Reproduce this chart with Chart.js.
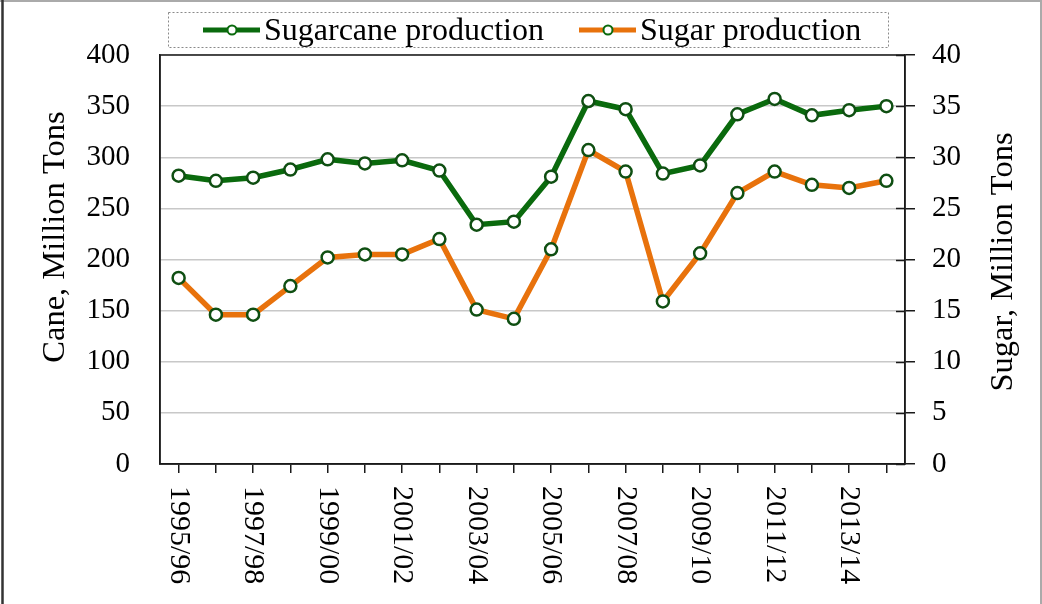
<!DOCTYPE html>
<html>
<head>
<meta charset="utf-8">
<script src="https://cdn.jsdelivr.net/npm/chart.js@4"></script>
<style>
  html, body { margin: 0; padding: 0; background: #fff; }
  #wrap { width: 1042px; height: 604px; }
</style>
</head>
<body>
<div id="wrap"><canvas id="myChart" width="1042" height="604"></canvas></div>
<script>
const seasons = ['1995/96', '1996/97', '1997/98', '1998/99', '1999/00', '2000/01', '2001/02', '2002/03', '2003/04', '2004/05',
                 '2005/06', '2006/07', '2007/08', '2008/09', '2009/10', '2010/11', '2011/12', '2012/13', '2013/14', '2014/15'];
const caneProduction = [282, 277, 280, 288, 298, 294, 297, 287, 234, 237, 281, 355, 347, 284, 292, 342, 357, 341, 346, 350];
const sugarProduction = [18.2, 14.6, 14.6, 17.4, 20.2, 20.5, 20.5, 22.0, 15.1, 14.2, 21.0, 30.7, 28.6, 15.9, 20.6, 26.5, 28.6, 27.3, 27.0, 27.7];
const caneTicks = [0, 50, 100, 150, 200, 250, 300, 350, 400];
const sugarTicks = [0, 5, 10, 15, 20, 25, 30, 35, 40];

const FONT = "'Liberation Serif', 'Times New Roman', serif";
const GREEN = '#0a6a0d';
const ORANGE = '#e8720c';
const MARKER_EDGE = '#0f4f12';

Chart.defaults.font.family = FONT;
Chart.defaults.color = '#000';

/* frame, plot box, rotated labels, titles and legend */
const extras = {
    id: 'extras',
    beforeDraw(chart) {
        const ctx = chart.ctx;
        ctx.save();
        ctx.fillStyle = '#fff';
        ctx.fillRect(0, 0, chart.width, chart.height);
        ctx.lineWidth = 2;
        ctx.strokeStyle = '#aaa';
        ctx.beginPath();
        ctx.moveTo(0, 1); ctx.lineTo(chart.width, 1);
        ctx.moveTo(chart.width - 1, 0); ctx.lineTo(chart.width - 1, chart.height);
        ctx.stroke();
        ctx.strokeStyle = '#333';
        ctx.lineWidth = 2.5;
        ctx.beginPath();
        ctx.moveTo(2.5, 0); ctx.lineTo(2.5, chart.height);
        ctx.stroke();
        ctx.restore();
    },
    beforeDatasetsDraw(chart) {
        const ctx = chart.ctx;
        const a = chart.chartArea;
        const y1 = chart.scales.y1;
        ctx.save();
        ctx.strokeStyle = '#1a1a1a';
        ctx.lineWidth = 1.5;
        ctx.strokeRect(a.left, a.top, a.right - a.left, a.bottom - a.top);
        // inner half of the crossing ticks on the right axis
        ctx.beginPath();
        sugarTicks.forEach(v => {
            const py = Math.round(y1.getPixelForValue(v)) + 0.5;
            ctx.moveTo(a.right - 9, py);
            ctx.lineTo(a.right, py);
        });
        ctx.stroke();
        ctx.restore();
    },
    afterDraw(chart) {
        const ctx = chart.ctx;
        const x = chart.scales.x;
        const a = chart.chartArea;
        ctx.save();
        ctx.fillStyle = '#000';

        // x labels, every other season, reading top to bottom
        ctx.font = '30px ' + FONT;
        ctx.textAlign = 'left';
        ctx.textBaseline = 'middle';
        seasons.forEach((s, i) => {
            if (i % 2) return;
            ctx.save();
            ctx.translate(x.getPixelForValue(i), a.bottom + 22);
            ctx.rotate(Math.PI / 2);
            ctx.fillText(s, 0, 0);
            ctx.restore();
        });

        // axis titles
        ctx.font = '32.5px ' + FONT;
        ctx.textAlign = 'center';
        [['Cane, Million Tons', 55, 237], ['Sugar, Million Tons', 1003, 262]].forEach(t => {
            ctx.save();
            ctx.translate(t[1], t[2]);
            ctx.rotate(-Math.PI / 2);
            ctx.fillText(t[0], 0, 0);
            ctx.restore();
        });

        // legend
        ctx.strokeStyle = '#8a8a8a';
        ctx.lineWidth = 1;
        ctx.setLineDash([2, 2]);
        ctx.strokeRect(168.5, 12.5, 720, 35);
        ctx.setLineDash([]);
        const starts = [203, 579];
        ctx.font = '32px ' + FONT;
        ctx.textAlign = 'left';
        ctx.textBaseline = 'alphabetic';
        chart.data.datasets.forEach((ds, i) => {
            const lx = starts[i];
            ctx.strokeStyle = ds.borderColor;
            ctx.lineWidth = 5;
            ctx.beginPath();
            ctx.moveTo(lx, 30); ctx.lineTo(lx + 57, 30);
            ctx.stroke();
            ctx.beginPath();
            ctx.arc(lx + 29, 30, 4.5, 0, Math.PI * 2);
            ctx.fillStyle = '#fff';
            ctx.fill();
            ctx.lineWidth = 2;
            ctx.strokeStyle = GREEN;
            ctx.stroke();
            ctx.fillStyle = '#000';
            ctx.fillText(ds.label, lx + 61, 40);
        });
        ctx.restore();
    }
};

const ctx1 = document.getElementById('myChart').getContext('2d');
const myChart = new Chart(ctx1, {
    type: 'line',
    data: {
        labels: seasons,
        datasets: [
            {
                label: 'Sugarcane production',
                data: caneProduction,
                yAxisID: 'y',
                borderColor: GREEN,
                borderWidth: 5.5,
                tension: 0,
                pointRadius: 6,
                pointBorderWidth: 2.5,
                pointBackgroundColor: '#fff',
                pointBorderColor: MARKER_EDGE
            },
            {
                label: 'Sugar production',
                data: sugarProduction,
                yAxisID: 'y1',
                borderColor: ORANGE,
                borderWidth: 5.5,
                tension: 0,
                pointRadius: 6,
                pointBorderWidth: 2.5,
                pointBackgroundColor: '#fff',
                pointBorderColor: MARKER_EDGE
            }
        ]
    },
    options: {
        responsive: false,
        animation: false,
        devicePixelRatio: 1,
        layout: {
            padding: { top: 55, left: 0, right: 0, bottom: 0 }
        },
        plugins: {
            legend: { display: false },
            tooltip: { enabled: false }
        },
        scales: {
            x: {
                offset: true,
                grid: {
                    drawOnChartArea: false,
                    drawTicks: true,
                    tickLength: 9,
                    color: '#1a1a1a',
                    lineWidth: 1.5
                },
                border: { display: true, color: '#1a1a1a', width: 1.5 },
                ticks: { display: false, autoSkip: false },
                afterFit: s => { s.height = 140; }
            },
            y: {
                position: 'left',
                min: 0,
                max: 400,
                afterBuildTicks: s => { s.ticks = caneTicks.map(v => ({ value: v })); },
                grid: { color: '#c8c8c8', lineWidth: 1.5, drawTicks: false },
                border: { display: true, color: '#1a1a1a', width: 1.5 },
                ticks: { font: { size: 29 }, color: '#000', padding: 30 },
                afterFit: s => { s.width = 160; }
            },
            y1: {
                position: 'right',
                min: 0,
                max: 40,
                afterBuildTicks: s => { s.ticks = sugarTicks.map(v => ({ value: v })); },
                grid: { drawOnChartArea: false, tickLength: 10, color: '#1a1a1a', lineWidth: 1.5 },
                border: { display: true, color: '#1a1a1a', width: 1.5 },
                ticks: { font: { size: 29 }, color: '#000', padding: 17 },
                afterFit: s => { s.width = 137; }
            }
        }
    },
    plugins: [extras]
});
</script>
</body>
</html>
